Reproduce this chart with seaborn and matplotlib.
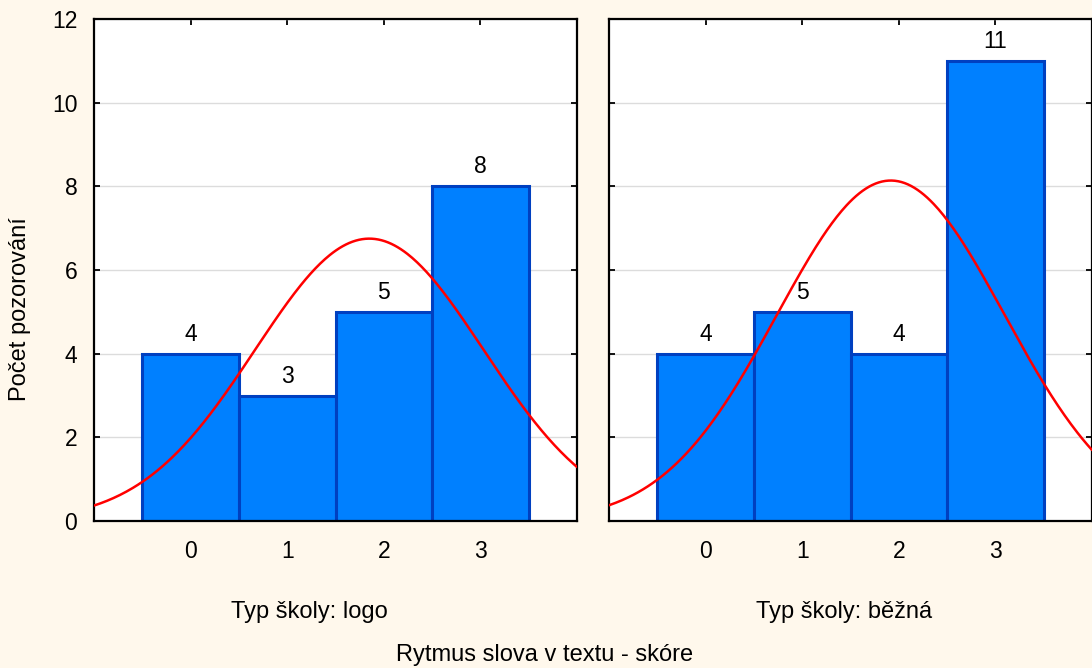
import numpy as np
import pandas as pd
import matplotlib
matplotlib.use("Agg")
import matplotlib.pyplot as plt
import seaborn as sns

# Score categories and observation counts per school type
scores = [0, 1, 2, 3]
counts_logo = [4, 3, 5, 8]
counts_bezna = [4, 5, 4, 11]
panel_titles = ["Typ školy: logo", "Typ školy: běžná"]
x_title = "Rytmus slova v textu - skóre"
y_title = "Počet pozorování"
y_ticks = [0, 2, 4, 6, 8, 10, 12]

BG = "#FFF8EC"
BAR = "#0080FF"
BAR_EDGE = "#0040C0"

sns.set_theme(style="white")
plt.rcParams["font.family"] = ["Liberation Sans", "DejaVu Sans"]
plt.rcParams["text.color"] = "black"

W, H = 1092, 668
fig = plt.figure(figsize=(W / 100, H / 100), dpi=100, facecolor=BG)

def px_axes(x0, x1, y0, y1):
    return fig.add_axes([x0 / W, 1 - y1 / H, (x1 - x0) / W, (y1 - y0) / H])

ax_l = px_axes(94, 577, 19, 521)
ax_r = px_axes(609, 1092, 19, 521)

for ax, counts, show_y in [(ax_l, counts_logo, True), (ax_r, counts_bezna, False)]:
    ax.set_facecolor("white")
    df = pd.DataFrame({"score": scores, "count": counts})
    sns.barplot(data=df, x="score", y="count", ax=ax, width=1.0, color=BAR,
                saturation=1, edgecolor=BAR_EDGE, linewidth=2.2, zorder=2)

    # Fitted normal curve scaled to counts (bin width 1)
    vals = np.repeat(scores, counts)
    n = len(vals)
    mu = vals.mean()
    sd = vals.std(ddof=1)
    xs = np.linspace(-1, 4, 300)
    ys = n / (sd * np.sqrt(2 * np.pi)) * np.exp(-0.5 * ((xs - mu) / sd) ** 2)
    sns.lineplot(x=xs, y=ys, ax=ax, color="#FF0000", linewidth=1.8, zorder=3)

    for s, c in zip(scores, counts):
        ax.annotate(str(c), (s, c), xytext=(0, 14), textcoords="offset points",
                    ha="center", va="center", fontsize=16.5, color="black")

    ax.set_xlim(-1, 4)
    ax.set_ylim(0, 12)
    ax.set_xticks(scores)
    ax.set_xticklabels([str(s) for s in scores])
    ax.set_yticks(y_ticks)
    ax.yaxis.grid(True, color="#DCDCDC", linewidth=1.0, zorder=0)
    ax.set_axisbelow(True)
    ax.set_xlabel("")
    ax.set_ylabel("")
    ax.tick_params(axis="both", direction="in", length=4, width=1.3,
                   color="black", labelsize=16.5, labelcolor="black",
                   top=True, right=True, bottom=True, left=True)
    ax.tick_params(axis="x", pad=14)
    ax.tick_params(axis="y", pad=12, labelleft=show_y)
    for sp in ax.spines.values():
        sp.set_visible(True)
        sp.set_color("black")
        sp.set_linewidth(1.6)

fig.text(309 / W, 1 - 612 / H, panel_titles[0], ha="center", va="center", fontsize=17)
fig.text(844 / W, 1 - 612 / H, panel_titles[1], ha="center", va="center", fontsize=17)
fig.text(545 / W, 1 - 655 / H, x_title, ha="center", va="center", fontsize=17)
fig.text(20 / W, 1 - 309 / H, y_title, ha="center", va="center", rotation=90, fontsize=17)

fig.savefig("out.png", dpi=100, facecolor=BG)
